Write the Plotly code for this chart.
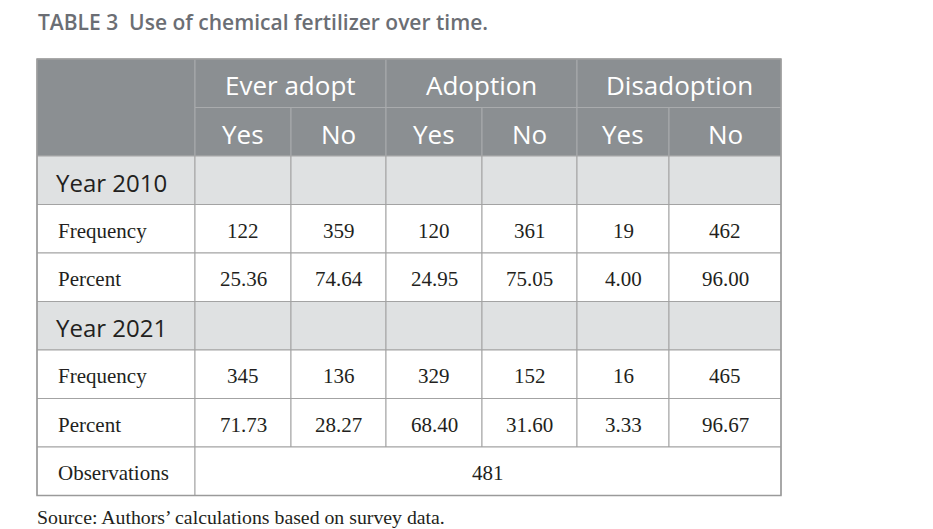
"""
Table 3 - use of chemical fertilizer over time, drawn as shapes + text
on a pixel-scaled pair of axes.
"""

import plotly.graph_objects as go

# ---- data ----
groups = ["Ever adopt", "Adoption", "Disadoption"]
answers = ["Yes", "No"]
sections = ["Year 2010", "Year 2021"]
row_labels = ["Frequency", "Percent"]
freq_2010 = [122, 359, 120, 361, 19, 462]
pct_2010 = [25.36, 74.64, 24.95, 75.05, 4.00, 96.00]
freq_2021 = [345, 136, 329, 152, 16, 465]
pct_2021 = [71.73, 28.27, 68.40, 31.60, 3.33, 96.67]
observations = 481
obs_label = "Observations"
title_num = "TABLE 3"
title_text = "Use of chemical fertilizer over time."
source_text = "Source: Authors\u2019 calculations based on survey data."

# ---- layout constants ----
W, H = 933, 529
left, top = 37, 59
col_w = [158, 96, 95, 96, 95, 92, 112]
row_h = 48.5
edges = [left]
for w in col_w:
    edges.append(edges[-1] + w)

head_fill = "#8b8f92"
head_line = "#a9abad"
band_fill = "#dfe1e2"
body_line = "#a3a3a3"
ink = "#231f20"
sans = "Open Sans"
serif = "Liberation Serif"

shapes = []
annots = []


def cell(row, c0, c1, fill, line):
    y0 = top + row * row_h
    shapes.append(dict(type="rect", xref="x", yref="y",
                       x0=edges[c0], x1=edges[c1 + 1], y0=y0, y1=y0 + row_h,
                       fillcolor=fill, line=dict(color=line, width=1),
                       layer="below"))


def text(row, c0, c1, s, font, align="center", pad=19, dy=2):
    yc = top + (row + 0.5) * row_h + dy
    if align == "left":
        x, anchor = edges[c0] + pad, "left"
    else:
        x, anchor = (edges[c0] + edges[c1 + 1]) / 2, "center"
    annots.append(dict(x=x, y=yc, xref="x", yref="y", text=s,
                       showarrow=False, xanchor=anchor, yanchor="middle",
                       font=font))


head_font = dict(family=sans, size=26, color="white")
band_font = dict(family=sans, size=24, color=ink)
body_font = dict(family=serif, size=21, color=ink)

# header rows
shapes.append(dict(type="rect", xref="x", yref="y", x0=edges[0], x1=edges[1],
                   y0=top, y1=top + 2 * row_h, fillcolor=head_fill,
                   line=dict(color=head_line, width=1), layer="below"))
for g, name in enumerate(groups):
    c0 = 1 + 2 * g
    cell(0, c0, c0 + 1, head_fill, head_line)
    text(0, c0, c0 + 1, name, head_font)
    for a, ans in enumerate(answers):
        cell(1, c0 + a, c0 + a, head_fill, head_line)
        text(1, c0 + a, c0 + a, ans, head_font)

# body
blocks = [(sections[0], freq_2010, pct_2010), (sections[1], freq_2021, pct_2021)]
row = 2
for label, freq, pct in blocks:
    for c in range(len(col_w)):
        cell(row, c, c, band_fill, body_line)
    text(row, 0, 0, label, band_font, "left", pad=17)
    row += 1
    for name, vals in zip(row_labels, [freq, [f"{v:.2f}" for v in pct]]):
        for c in range(len(col_w)):
            cell(row, c, c, "white", body_line)
        text(row, 0, 0, name, body_font, "left")
        for i, v in enumerate(vals):
            text(row, i + 1, i + 1, str(v), body_font)
        row += 1

cell(row, 0, 0, "white", body_line)
cell(row, 1, len(col_w) - 1, "white", body_line)
text(row, 0, 0, obs_label, body_font, "left")
text(row, 1, len(col_w) - 1, str(observations), body_font)
bottom = top + (row + 1) * row_h

# outer frame
shapes.append(dict(type="rect", xref="x", yref="y", x0=edges[0], x1=edges[-1],
                   y0=top, y1=bottom, line=dict(color="#9a9a9a", width=1.5)))

# title + source
annots.append(dict(x=left - 1, y=22, xref="x", yref="y", showarrow=False,
                   xanchor="left", yanchor="middle",
                   text=f"{title_num}&nbsp;&nbsp;{title_text}",
                   font=dict(family=sans, size=21, weight=600,
                             color="#6b6e74")))
annots.append(dict(x=left - 2, y=bottom + 21, xref="x", yref="y",
                   showarrow=False, xanchor="left", yanchor="middle",
                   text=source_text,
                   font=dict(family=serif, size=19.8, color=ink)))

fig = go.Figure()
fig.add_trace(go.Scatter(x=[0, W], y=[0, H], mode="markers",
                         marker=dict(opacity=0), hoverinfo="skip",
                         showlegend=False))
fig.update_layout(
    width=W, height=H,
    margin=dict(l=0, r=0, t=0, b=0),
    paper_bgcolor="white", plot_bgcolor="white",
    xaxis=dict(range=[0, W], visible=False, fixedrange=True),
    yaxis=dict(range=[H, 0], visible=False, fixedrange=True),
    shapes=shapes, annotations=annots,
)
# the page's default 8px body margin would push the figure off the window
fig.write_html("out.html", config={"displayModeBar": False},
               post_script="document.body.style.margin = '0';")
